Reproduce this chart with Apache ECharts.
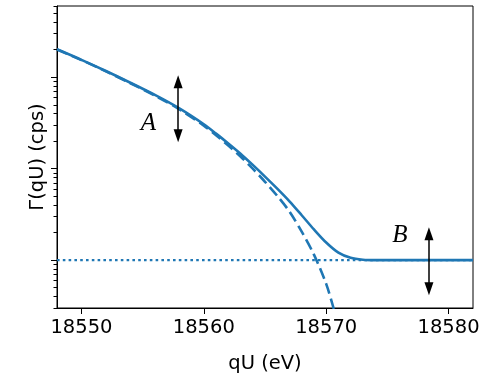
<!DOCTYPE html>
<html>
<head>
<meta charset="utf-8">
<script src="https://cdn.jsdelivr.net/npm/echarts@6/dist/echarts.min.js"></script>
<style>
  html, body { margin: 0; padding: 0; background: #fff; }
  #chart { width: 485px; height: 373px; }
</style>
</head>
<body>
<div id="chart"></div>
<script>
// total rate (signal + background)
const qU = [18548, 18550, 18552, 18554, 18556, 18558, 18560, 18561, 18562, 18563, 18564, 18565, 18566, 18567, 18568, 18569, 18570, 18571, 18572, 18573, 18574, 18582]
const totalRate = [202, 155, 117, 87, 64, 45.6, 30.6, 24.2, 18.9, 14.6, 11.0, 8.2, 6.05, 4.4, 3.1, 2.17, 1.56, 1.21, 1.06, 1.01, 1.0, 1.0]

// signal only (dashed)
const signalQU = [18548, 18550, 18552, 18554, 18556, 18558, 18560, 18561, 18562, 18563, 18564, 18565, 18566, 18567, 18568, 18569, 18570, 18570.6, 18571]
const signalRate = [201, 154, 116, 86, 63, 44.6, 29.6, 23.2, 17.9, 13.6, 10.0, 7.2, 5.05, 3.4, 2.05, 1.15, 0.55, 0.3, 0.19]

// flat background (dotted)
const bgQU = [18548, 18582]
const bgRate = [1, 1]

const xTicks = [18550, 18560, 18570, 18580]
const yMajor = [1, 10, 100]
const yMinor = [0.3, 0.4, 0.5, 0.6, 0.7, 0.8, 0.9, 2, 3, 4, 5, 6, 7, 8, 9, 20, 30, 40, 50, 60, 70, 80, 90, 200, 300, 400, 500, 600]

// arrows: [qU, top, bottom]
const arrowA = [18557.9, 89.3, 22.9]
const arrowB = [18578.4, 1.95, 0.488]

const zip = (xs, ys) => xs.map((x, i) => [x, ys[i]])

const chart = echarts.init(document.getElementById('chart'))
const blue = '#1f77b4'
const font = 'DejaVu Sans'

const option = {
  animation: false,
  grid: {
    left: 57, right: 12, top: 6, bottom: 65,
    outerBoundsMode: 'none',
    containLabel: false,
    show: true, borderColor: '#000', borderWidth: 1
  },
  xAxis: {
    type: 'value',
    min: 18548,
    max: 18582,
    name: 'qU (eV)',
    nameLocation: 'middle',
    nameGap: 46,
    nameTextStyle: { fontFamily: font, fontSize: 19.5, color: '#000' },
    axisLine: { lineStyle: { color: '#000', width: 1 } },
    axisTick: { customValues: xTicks, length: 6, lineStyle: { color: '#000' } },
    axisLabel: {
      customValues: xTicks,
      formatter: v => String(v),
      fontFamily: font, fontSize: 19.5, color: '#000', margin: 10
    },
    splitLine: { show: false }
  },
  yAxis: [
    {
      type: 'log',
      logBase: 10,
      min: 0.3,
      max: 601,
      position: 'left',
      name: 'Γ(qU) (cps)',
      nameLocation: 'middle',
      nameGap: 9,
      nameTextStyle: { fontFamily: font, fontSize: 19.5, color: '#000' },
      axisLine: { show: true, lineStyle: { color: '#000', width: 1 } },
      axisTick: { customValues: yMajor, length: 6, lineStyle: { color: '#000' } },
      axisLabel: { show: false },
      splitLine: { show: false }
    },
    {
      type: 'log',
      logBase: 10,
      min: 0.3,
      max: 601,
      position: 'left',
      axisLine: { show: false },
      axisTick: { show: true, customValues: yMinor, length: 3.5, lineStyle: { color: '#000' } },
      axisLabel: { show: false },
      splitLine: { show: false }
    }
  ],
  series: [
    {
      type: 'line',
      data: zip(bgQU, bgRate),
      showSymbol: false,
      lineStyle: { color: blue, width: 2.4, type: [2.6, 3.2] },
      markLine: {
        silent: true,
        symbol: ['triangle', 'triangle'],
        symbolSize: [9, 13],
        label: { show: false },
        lineStyle: { color: '#000', width: 1.5, type: 'solid' },
        data: [
          [{ coord: [arrowA[0], arrowA[1]] }, { coord: [arrowA[0], arrowA[2]] }],
          [{ coord: [arrowB[0], arrowB[1]] }, { coord: [arrowB[0], arrowB[2]] }]
        ]
      }
    },
    {
      type: 'line',
      data: zip(signalQU, signalRate),
      showSymbol: false,
      smooth: 0.3,
      clip: true,
      lineStyle: { color: blue, width: 2.6, type: [11, 5] }
    },
    {
      type: 'line',
      data: zip(qU, totalRate),
      showSymbol: false,
      smooth: 0.3,
      lineStyle: { color: blue, width: 2.6 }
    }
  ],
  graphic: [
    { type: 'text', x: 148.5, y: 123.5, style: { text: 'A', font: 'italic 25px "Liberation Serif"', fill: '#000', align: 'center', verticalAlign: 'middle' } },
    { type: 'text', x: 400, y: 235, style: { text: 'B', font: 'italic 25px "Liberation Serif"', fill: '#000', align: 'center', verticalAlign: 'middle' } }
  ]
}

chart.setOption(option)
</script>
</body>
</html>
